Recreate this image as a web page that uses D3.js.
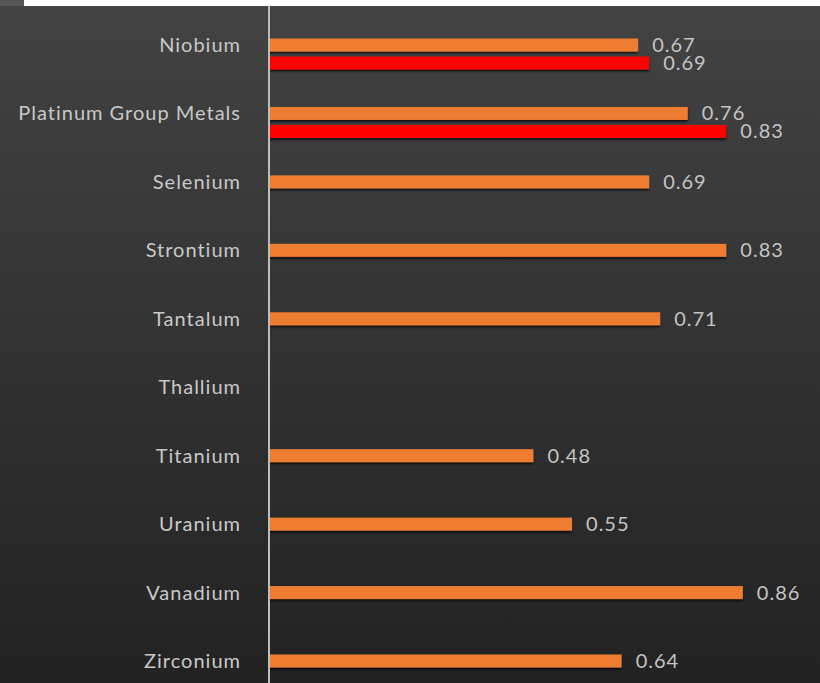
<!DOCTYPE html>
<html>
<head>
<meta charset="utf-8">
<script src="https://cdnjs.cloudflare.com/ajax/libs/d3/7.8.5/d3.min.js"></script>
<style>
  html, body { margin: 0; padding: 0; background: #2b2b2b; }
  svg { display: block; }
</style>
</head>
<body>
<script>
// Criticality scores by element (two assessment series; the second only for a few elements)
const categories = ["Niobium", "Platinum Group Metals", "Selenium", "Strontium", "Tantalum",
                    "Thallium", "Titanium", "Uranium", "Vanadium", "Zirconium"];
const seriesFirst  = [0.67, 0.76, 0.69, 0.83, 0.71, null, 0.48, 0.55, 0.86, 0.64];
const seriesSecond = [0.69, 0.83, null, null, null, null, null, null, null, null];
const valueDomain  = [0, 1];

const W = 820, H = 683;
const axisX = 269;

const svg = d3.select("body").append("svg")
  .attr("width", W).attr("height", H);

const defs = svg.append("defs");
const bg = defs.append("linearGradient").attr("id", "bg")
  .attr("x1", 0).attr("y1", 0).attr("x2", 0).attr("y2", 1);
bg.append("stop").attr("offset", "0%").attr("stop-color", "#434343");
bg.append("stop").attr("offset", "100%").attr("stop-color", "#222222");

const shadow = defs.append("filter").attr("id", "shadow")
  .attr("x", "-5%").attr("y", "-50%").attr("width", "110%").attr("height", "220%");
shadow.append("feDropShadow").attr("dx", 0).attr("dy", 2).attr("stdDeviation", 1.2)
  .attr("flood-color", "#000").attr("flood-opacity", 0.7);

// background
svg.append("rect").attr("width", W).attr("height", H).attr("fill", "url(#bg)");
// top strip
svg.append("rect").attr("x", 24).attr("y", 0).attr("width", W - 24).attr("height", 6).attr("fill", "#ffffff");
svg.append("rect").attr("x", 0).attr("y", 0).attr("width", 24).attr("height", 6).attr("fill", "#555555");

const x = d3.scaleLinear().domain(valueDomain).range([axisX, axisX + 551]);
const y = d3.scalePoint().domain(categories).range([45, 661]);

const barH = 13;
const secondOffset = 18;

const rows = categories.map((c, i) => ({ c, a: seriesFirst[i], b: seriesSecond[i] }));

const font = "Lato, 'Open Sans', sans-serif";

// category labels
svg.append("g").selectAll("text").data(categories).join("text")
  .attr("x", axisX - 28)
  .attr("y", d => y(d))
  .attr("dy", "0.35em")
  .attr("text-anchor", "end")
  .attr("font-family", font)
  .attr("font-size", 20)
  .attr("letter-spacing", 1)
  .attr("fill", "#c8c8c8")
  .text(d => d);

const bars = svg.append("g");

// first series
const first = rows.filter(r => r.a != null);
bars.selectAll("rect.first").data(first).join("rect")
  .attr("class", "first")
  .attr("x", x(0))
  .attr("y", d => y(d.c) - barH / 2)
  .attr("width", d => x(d.a) - x(0))
  .attr("height", barH)
  .attr("fill", "#ee7d31")
  .attr("filter", "url(#shadow)");

// second series
const second = rows.filter(r => r.b != null);
bars.selectAll("rect.second").data(second).join("rect")
  .attr("class", "second")
  .attr("x", x(0))
  .attr("y", d => y(d.c) + secondOffset - barH / 2)
  .attr("width", d => x(d.b) - x(0))
  .attr("height", barH)
  .attr("fill", "#ff0000")
  .attr("filter", "url(#shadow)");

const labels = svg.append("g")
  .attr("font-family", font)
  .attr("font-size", 20)
  .attr("letter-spacing", 1)
  .attr("fill", "#c4c4c4");

labels.selectAll("text.first").data(first).join("text")
  .attr("class", "first")
  .attr("x", d => x(d.a) + 14)
  .attr("y", d => y(d.c))
  .attr("dy", "0.35em")
  .text(d => d3.format(".2f")(d.a));

labels.selectAll("text.second").data(second).join("text")
  .attr("class", "second")
  .attr("x", d => x(d.b) + 14)
  .attr("y", d => y(d.c) + secondOffset)
  .attr("dy", "0.35em")
  .text(d => d3.format(".2f")(d.b));

// vertical category axis line
svg.append("line")
  .attr("x1", axisX).attr("x2", axisX)
  .attr("y1", 6).attr("y2", H)
  .attr("stroke", "#bdbdbd").attr("stroke-width", 2);
</script>
</body>
</html>
